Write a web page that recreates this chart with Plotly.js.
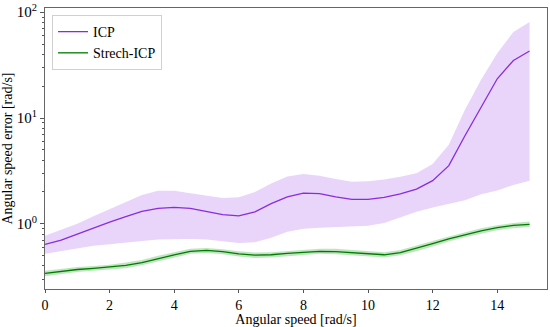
<!DOCTYPE html>
<html>
<head>
<meta charset="utf-8">
<script src="https://cdn.plot.ly/plotly-3.0.1.min.js"></script>
<style>html,body{margin:0;padding:0;background:#fff;}#chart{width:550px;height:327px;}</style>
</head>
<body>
<div id="chart"></div>
<script>
const speed = [0,0.5,1,1.5,2,2.5,3,3.5,4,4.5,5,5.5,6,6.5,7,7.5,8,8.5,9,9.5,10,10.5,11,11.5,12,12.5,13,13.5,14,14.5,15];
const icpMean  = [0.64,0.70,0.80,0.92,1.04,1.17,1.31,1.40,1.43,1.40,1.31,1.22,1.19,1.30,1.55,1.80,1.95,1.93,1.80,1.70,1.70,1.78,1.92,2.13,2.56,3.55,6.8,12.8,23.5,35,43];
const icpUpper = [0.77,0.87,1.0,1.18,1.38,1.62,1.87,2.05,2.05,1.95,1.84,1.75,1.78,2.0,2.4,2.8,2.96,2.85,2.65,2.5,2.52,2.62,2.78,3.0,3.68,5.6,12,23,41,65,81];
const icpLower = [0.52,0.55,0.59,0.62,0.64,0.67,0.69,0.71,0.72,0.72,0.71,0.69,0.66,0.67,0.74,0.84,0.90,0.92,0.93,0.94,0.96,1.02,1.15,1.30,1.43,1.55,1.67,1.90,2.07,2.33,2.56];
const stMean  = [0.34,0.355,0.37,0.38,0.39,0.405,0.43,0.47,0.51,0.55,0.56,0.545,0.52,0.505,0.51,0.525,0.54,0.55,0.547,0.535,0.52,0.51,0.535,0.585,0.65,0.72,0.79,0.86,0.92,0.965,0.99];
const stUpper = [0.36,0.375,0.39,0.40,0.41,0.43,0.455,0.50,0.54,0.58,0.59,0.575,0.55,0.535,0.54,0.555,0.57,0.58,0.58,0.565,0.55,0.54,0.565,0.62,0.69,0.76,0.835,0.91,0.97,1.02,1.05];
const stLower = [0.32,0.335,0.35,0.36,0.37,0.38,0.405,0.44,0.48,0.52,0.53,0.515,0.49,0.475,0.48,0.495,0.51,0.52,0.515,0.505,0.49,0.48,0.505,0.55,0.61,0.68,0.745,0.81,0.87,0.91,0.935];
const yTickVals = [1,10,100];
const yTickText = ['10<sup>0</sup>','10<sup>1</sup>','10<sup>2</sup>'];
const xTickVals = [0,2,4,6,8,10,12,14];

const purple = '#8a2be2';
const green = '#007a00';

const traces = [
  {x: speed, y: icpLower, mode:'lines', line:{width:0}, showlegend:false, hoverinfo:'skip'},
  {x: speed, y: icpUpper, mode:'lines', line:{width:0}, fill:'tonexty', fillcolor:'rgba(138,43,226,0.2)', showlegend:false, hoverinfo:'skip'},
  {x: speed, y: stLower, mode:'lines', line:{width:0}, showlegend:false, hoverinfo:'skip'},
  {x: speed, y: stUpper, mode:'lines', line:{width:0}, fill:'tonexty', fillcolor:'rgba(0,150,0,0.25)', showlegend:false, hoverinfo:'skip'},
  {x: speed, y: icpMean, mode:'lines', name:'ICP', line:{color:purple, width:1.3}},
  {x: speed, y: stMean, mode:'lines', name:'Strech-ICP', line:{color:green, width:1.3}}
];

const fam = 'Liberation Serif';

const layout = {
  width:550, height:327,
  margin:{l:45, r:3, t:8, b:38},
  paper_bgcolor:'#fff', plot_bgcolor:'#fff',
  font: {family:fam, size:14, color:'#000'},
  showlegend:true,
  legend:{x:0.014, y:0.975, xanchor:'left', yanchor:'top', traceorder:'normal', bgcolor:'rgba(255,255,255,0.8)', bordercolor:'#d0d0d0', borderwidth:1, font:{family:fam, size:14, color:'#000'}},
  xaxis:{
    range:[0,15.54], tickvals:xTickVals, ticks:'outside', ticklen:3, tickcolor:'#555',
    showgrid:false, zeroline:false, showline:true, linecolor:'#666', linewidth:1, mirror:true,
    title:{text:'Angular speed [rad/s]', font:{family:fam, size:14, color:'#000'}, standoff:0},
    tickfont:{family:fam, size:14, color:'#000'}, automargin:false
  },
  yaxis:{
    type:'log', range:[-0.616,2.04], tickvals:yTickVals, ticktext:yTickText,
    ticks:'outside', ticklen:4, tickcolor:'#555',
    minor:{ticks:'outside', ticklen:2, tickcolor:'#555', tickvals:[0.3,0.4,0.5,0.6,0.7,0.8,0.9,2,3,4,5,6,7,8,9,20,30,40,50,60,70,80,90]},
    showgrid:false, zeroline:false, showline:true, linecolor:'#666', linewidth:1, mirror:true,
    title:{text:'Angular speed error [rad/s]', font:{family:fam, size:14, color:'#000'}, standoff:6},
    tickfont:{family:fam, size:15, color:'#000'}, automargin:false
  }
};

Plotly.newPlot('chart', traces, layout, {staticPlot:true, displayModeBar:false});
</script>
</body>
</html>
